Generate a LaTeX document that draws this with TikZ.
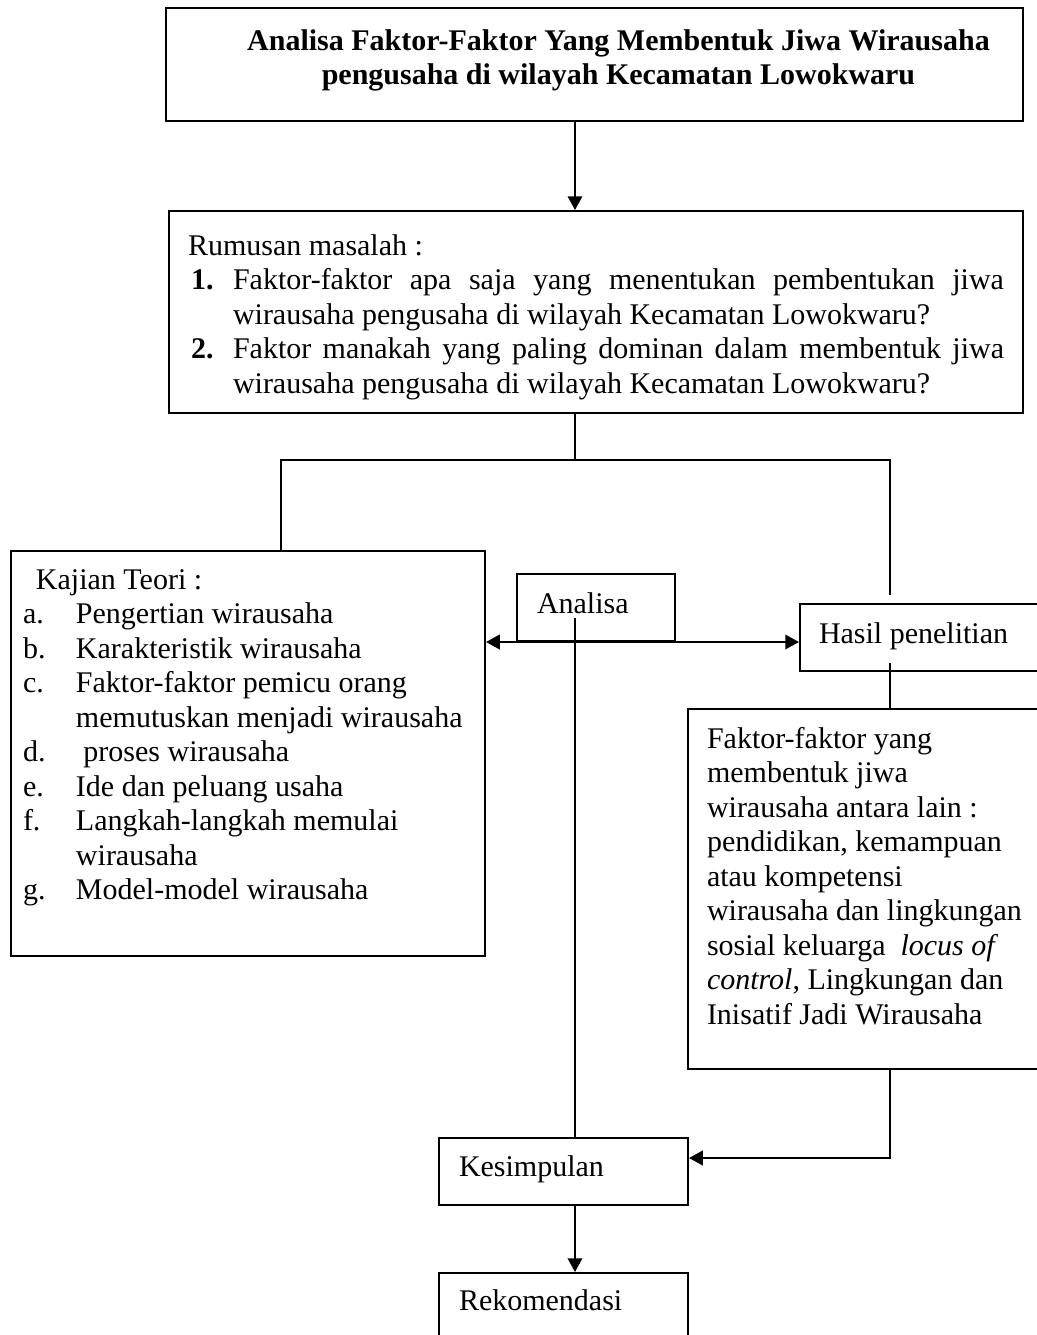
\documentclass[tikz,border=0pt]{standalone}
\usepackage{fontspec}
\setmainfont{Liberation Serif}
\usepackage{tikz}
\usetikzlibrary{arrows.meta}

% 一个像素的长度
\newlength{\px}
\setlength{\px}{0.4pt}

% 方框里的文字: 宽度, 高度, 上边距, 内容
\newcommand{\isi}[4]{\begin{minipage}[t][#2\px][t]{#1\px}\vspace*{#3\px}\strut #4\end{minipage}}
% 列表的一项: 标号宽度, 标号, 内容
\newcommand{\butir}[3]{\par\noindent\hangindent=#1\px\hangafter=1\makebox[#1\px][l]{#2}#3\par}

\tikzset{
    kotak/.style={draw, anchor=north west, inner ysep=0pt, font=\fontsize{12pt}{13.8pt}\selectfont},
    panah/.style={-{Triangle[length=5.5pt,width=5.8pt]}},
    panahdua/.style={{Triangle[length=5.5pt,width=5.8pt]}-{Triangle[length=5.5pt,width=5.8pt]}}
}

\begin{document}
\begin{tikzpicture}[x=0.4pt, y=-0.4pt, line width=0.8pt]
    \useasboundingbox (0,0) rectangle (1037,1335);
    \clip (0,0) rectangle (1037,1335);

    % 各个方框
    \node[kotak, inner xsep=0pt] (judul) at (165,7) {\isi{857}{113}{18}{\centering\leftskip=48\px plus 1fil\relax
        \textbf{Analisa Faktor-Faktor Yang Membentuk Jiwa Wirausaha}\\\textbf{pengusaha di wilayah Kecamatan Lowokwaru}}};
    \node[kotak, inner xsep=19\px] (rumusan) at (168,210) {\isi{816}{202}{20}{Rumusan masalah :
        \butir{45}{\hspace*{3\px}\textbf{1.}}{Faktor-faktor apa saja yang menentukan pembentukan jiwa\linebreak wirausaha pengusaha di wilayah Kecamatan Lowokwaru?}
        \butir{45}{\hspace*{3\px}\textbf{2.}}{Faktor manakah yang paling dominan dalam membentuk jiwa\linebreak wirausaha pengusaha di wilayah Kecamatan Lowokwaru?}}};
    \node[kotak, inner xsep=12\px] (kajian) at (10,550) {\isi{450}{405}{14}{\hspace*{13\px}Kajian Teori :
        \butir{53}{a.}{Pengertian wirausaha}
        \butir{53}{b.}{Karakteristik wirausaha}
        \butir{53}{c.}{Faktor-faktor pemicu orang\\memutuskan menjadi wirausaha}
        \butir{53}{d.}{\ proses wirausaha}
        \butir{53}{e.}{Ide dan peluang usaha}
        \butir{53}{f.}{Langkah-langkah memulai\\wirausaha}
        \butir{53}{g.}{Model-model wirausaha}}};
    \node[kotak, inner xsep=20\px] (analisa) at (516,573) {\isi{118}{67}{15}{Analisa}};
    \node[kotak, inner xsep=19\px] (hasil) at (799,603) {\isi{222}{67}{15}{Hasil penelitian}};
    \node[kotak, inner xsep=19\px] (faktor) at (687,708) {\isi{332}{360}{15}{Faktor-faktor yang\\
        membentuk jiwa\\wirausaha antara lain :\\pendidikan, kemampuan\\atau kompetensi\\
        wirausaha dan lingkungan\\sosial keluarga \ \textit{locus of}\\\textit{control}, Lingkungan dan\\
        Inisatif Jadi Wirausaha}};
    \node[kotak, inner xsep=20\px] (kesimpulan) at (438,1137) {\isi{209}{67}{14}{Kesimpulan}};
    \node[kotak, inner xsep=20\px] (rekomendasi) at (438,1272) {\isi{209}{100}{13}{Rekomendasi}};

    % 连线用的点
    \coordinate (poros) at (575,0);
    \coordinate (kiri) at (281,460);
    \coordinate (kanan) at (890,460);
    \coordinate (ujung) at (890,595);
    \coordinate (mulai) at (575,618);
    \coordinate (bawahhasil) at (890,663);
    \coordinate (belok) at (890,1158);

    % 连线和箭头
    \draw[panah] (judul.south -| poros) -- (rumusan.north -| poros);
    \draw (rumusan.south -| poros) -- (poros |- kiri);
    \draw (kajian.north -| kiri) -- (kiri) -- (kanan) -- (ujung);
    \draw[panahdua] (kajian.east |- analisa.south) -- (hasil.west |- analisa.south);
    \draw (mulai) -- (kesimpulan.north -| mulai);
    \draw (bawahhasil) -- (faktor.north -| bawahhasil);
    \draw[panah] (faktor.south -| belok) -- (belok) -- (kesimpulan.east |- belok);
    \draw[panah] (kesimpulan.south -| poros) -- (rekomendasi.north -| poros);
\end{tikzpicture}
\end{document}
